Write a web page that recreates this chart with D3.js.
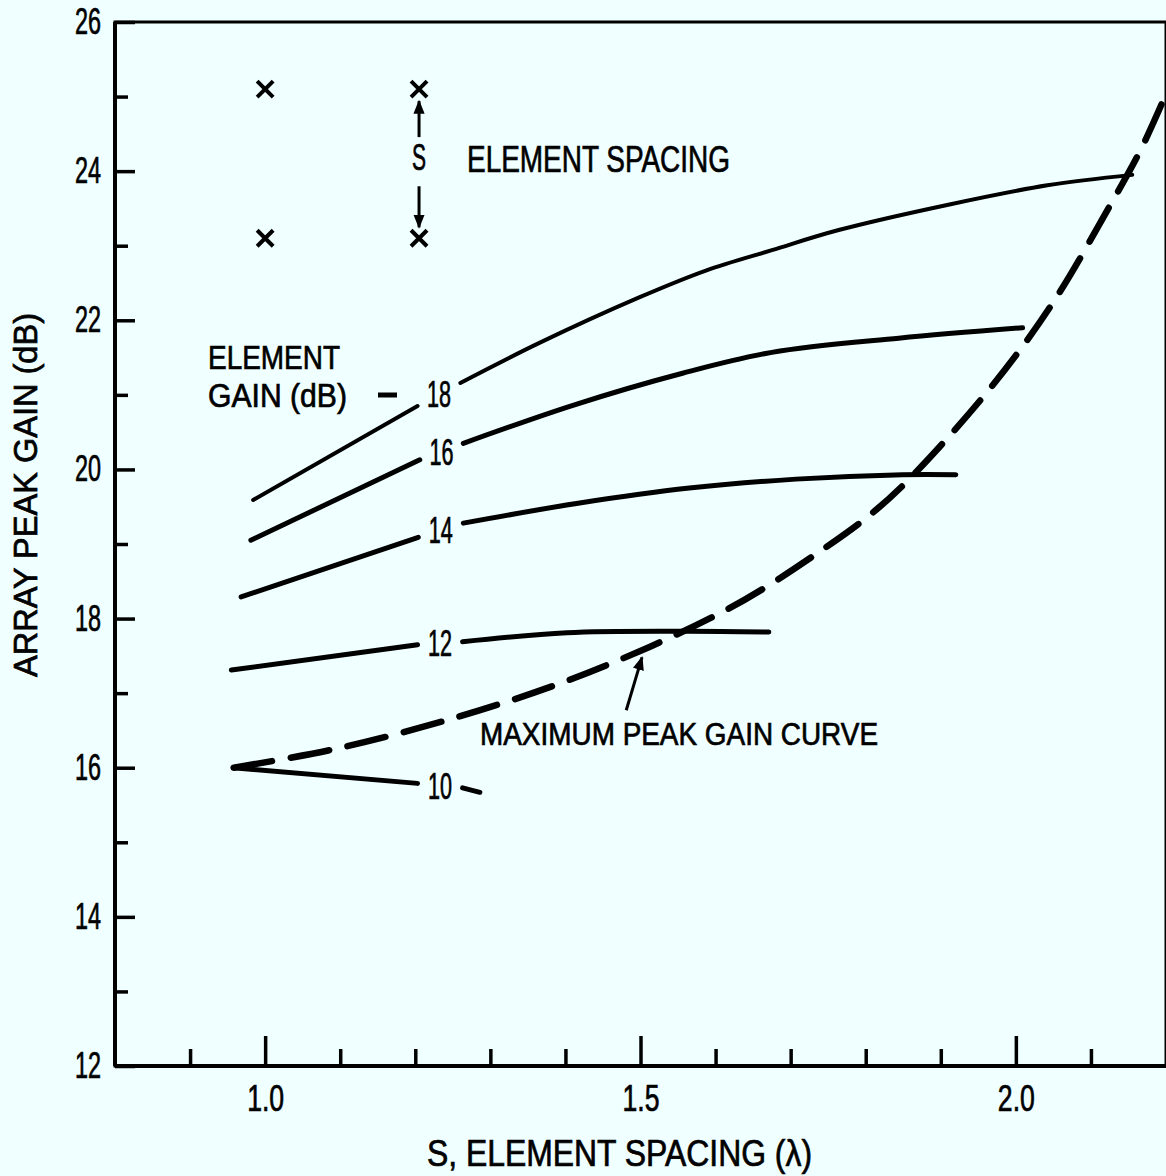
<!DOCTYPE html>
<html>
<head>
<meta charset="utf-8">
<script src="https://d3js.org/d3.v7.min.js"></script>
<style>
  html, body { margin: 0; padding: 0; background: #f0ffff; }
  svg { display: block; }
  text { font-family: 'Liberation Sans Narrow', 'Liberation Sans', Arial, sans-serif; fill: #000; stroke: #000; stroke-width: 0.7px; }
</style>
</head>
<body>
<div id="chart"></div>
<script>
// element gain curves (s in wavelengths, gain in dB)
var gain18S = [0.984, 1.203, 1.260, 1.366, 1.499, 1.588, 1.675, 1.764, 1.910, 2.042, 2.155];
var gain18G = [19.59, 20.85, 21.16, 21.70, 22.31, 22.67, 22.94, 23.21, 23.55, 23.81, 23.95];

var gain16S = [0.981, 1.206, 1.264, 1.410, 1.556, 1.675, 1.844, 2.009];
var gain16G = [19.05, 20.13, 20.35, 20.86, 21.29, 21.57, 21.76, 21.90];

var gain14S = [0.968, 1.204, 1.264, 1.419, 1.565, 1.707, 1.849, 1.920];
var gain14G = [18.29, 19.09, 19.28, 19.55, 19.75, 19.87, 19.93, 19.93];

var gain12S = [0.955, 1.203, 1.263, 1.402, 1.556, 1.671];
var gain12G = [17.31, 17.65, 17.69, 17.81, 17.83, 17.82];

var gain10S = [0.958, 1.203, 1.263, 1.286];
var gain10G = [16.00, 15.79, 15.73, 15.67];

// maximum peak gain (dashed)
var maxPeakS = [0.958, 1.088, 1.229, 1.379, 1.512, 1.613, 1.665, 1.736, 1.802, 1.854, 1.966, 2.049, 2.126, 2.166, 2.205];
var maxPeakG = [16.00, 16.24, 16.60, 17.08, 17.62, 18.11, 18.41, 18.88, 19.36, 19.83, 21.09, 22.23, 23.55, 24.28, 25.15];

var curveNames = ["18", "16", "14", "12", "10"];

// inset sketch of element positions
var elemS = [1.0, 1.205];
var elemG = [25.1, 23.1];

// arrow to the dashed curve (tail, tip)
var peakArrowS = [1.481, 1.502];
var peakArrowG = [16.77, 17.48];

// axes
var xMinorTicks = [0.9, 1.1, 1.2, 1.3, 1.4, 1.6, 1.7, 1.8, 1.9, 2.1];
var xMajorTicks = [1.0, 1.5, 2.0];
var yMinorTicks = [13, 15, 17, 19, 21, 23, 25];
var yMajorTicks = [12, 14, 16, 18, 20, 22, 24, 26];

var width = 1166, height = 1176;
var labelGap = [1.21, 1.25];

var svg = d3.select("#chart").append("svg")
    .attr("width", width)
    .attr("height", height);

svg.append("rect")
    .attr("width", width)
    .attr("height", height)
    .attr("fill", "#f0ffff");

var x = d3.scaleLinear().domain([0.8, 2.2]).range([115, 1166]);
var y = d3.scaleLinear().domain([12, 26]).range([1066, 22]);

svg.append("defs").append("clipPath")
    .attr("id", "plotClip")
    .append("rect")
    .attr("x", x(0.8))
    .attr("y", y(26))
    .attr("width", x(2.2) - x(0.8))
    .attr("height", y(12) - y(26));

var marker = svg.select("defs").append("marker")
    .attr("id", "arrowHead")
    .attr("viewBox", "0 0 10 10")
    .attr("refX", 9)
    .attr("refY", 5)
    .attr("markerUnits", "userSpaceOnUse")
    .attr("markerWidth", 14)
    .attr("markerHeight", 16)
    .attr("orient", "auto");
marker.append("path").attr("d", "M0,1 L10,5 L0,9 Z").attr("fill", "#000");

function fit(sel, w) {
    sel.attr("textLength", w).attr("lengthAdjust", "spacingAndGlyphs");
    return sel;
}

// frame
svg.append("path")
    .attr("d", "M" + x(0.8) + "," + y(12) + "V" + y(26) + "H" + x(2.2) + "V" + y(12) + "Z")
    .attr("fill", "none")
    .attr("stroke", "#000")
    .attr("stroke-width", 3);
svg.append("line")
    .attr("x1", x(0.8)).attr("x2", x(0.8))
    .attr("y1", y(26)).attr("y2", y(12))
    .attr("stroke", "#000").attr("stroke-width", 4);
svg.append("line")
    .attr("x1", x(0.8)).attr("x2", x(2.2))
    .attr("y1", y(12)).attr("y2", y(12))
    .attr("stroke", "#000").attr("stroke-width", 4);

// ticks
var xMinorAxis = d3.axisBottom(x).tickValues(xMinorTicks).tickSize(-17).tickFormat("");
var xMajorAxis = d3.axisBottom(x).tickValues(xMajorTicks).tickSize(-30).tickPadding(19)
    .tickFormat(d3.format(".1f"));
var yMinorAxis = d3.axisLeft(y).tickValues(yMinorTicks).tickSize(-13).tickFormat("");
var yMajorAxis = d3.axisLeft(y).tickValues(yMajorTicks).tickSize(-20).tickPadding(14)
    .tickFormat(d3.format("d"));

[[xMinorAxis, "x"], [xMajorAxis, "x"], [yMinorAxis, "y"], [yMajorAxis, "y"]].forEach(function (a) {
    var g = svg.append("g")
        .attr("transform", a[1] == "x" ? "translate(0," + y(12) + ")" : "translate(" + x(0.8) + ",0)")
        .attr("font-family", null)
        .attr("font-size", null)
        .call(a[0]);
    g.select(".domain").remove();
    g.selectAll(".tick line").attr("stroke", "#000").attr("stroke-width", 3.5);
    g.selectAll(".tick text")
        .attr("font-size", 36)
        .attr("fill", "#000")
        .each(function () {
            fit(d3.select(this), a[1] == "x" ? 37 : 26);
        });
});

// curves
var line = d3.line()
    .x(function (d) { return x(d[0]); })
    .y(function (d) { return y(d[1]); })
    .curve(d3.curveCatmullRom.alpha(0.5));

var plot = svg.append("g").attr("clip-path", "url(#plotClip)");

var curves = [
    [gain18S, gain18G],
    [gain16S, gain16G],
    [gain14S, gain14G],
    [gain12S, gain12G],
    [gain10S, gain10G]
];

curves.forEach(function (c, i) {
    var pts = d3.zip(c[0], c[1]);
    var segA = pts.filter(function (p) { return p[0] < labelGap[0]; });
    var segB = pts.filter(function (p) { return p[0] > labelGap[1]; });
    [segA, segB].forEach(function (seg) {
        plot.append("path")
            .attr("d", line(seg))
            .attr("fill", "none")
            .attr("stroke", "#000")
            .attr("stroke-width", i == 0 ? 4 : 5)
            .attr("stroke-linecap", "round");
    });
    var a = segA[segA.length - 1], b = segB[0];
    var t = svg.append("text")
        .attr("x", x((a[0] + b[0]) / 2))
        .attr("y", y((a[1] + b[1]) / 2) + 13)
        .attr("text-anchor", "middle")
        .attr("font-size", 36)
        .text(curveNames[i]);
    fit(t, 24);
});

plot.append("path")
    .attr("d", line(d3.zip(maxPeakS, maxPeakG)))
    .attr("fill", "none")
    .attr("stroke", "#000")
    .attr("stroke-width", 6.5)
    .attr("stroke-linecap", "round")
    .attr("stroke-dasharray", "39,19");

// arrow to dashed curve
svg.append("line")
    .attr("x1", x(peakArrowS[0])).attr("y1", y(peakArrowG[0]))
    .attr("x2", x(peakArrowS[1])).attr("y2", y(peakArrowG[1]))
    .attr("stroke", "#000")
    .attr("stroke-width", 3)
    .attr("marker-end", "url(#arrowHead)");

// element spacing sketch
elemS.forEach(function (s) {
    elemG.forEach(function (g) {
        var cx = x(s), cy = y(g), r = 8;
        svg.append("path")
            .attr("d", "M" + (cx - r) + "," + (cy - r) + "L" + (cx + r) + "," + (cy + r) +
                "M" + (cx + r) + "," + (cy - r) + "L" + (cx - r) + "," + (cy + r))
            .attr("stroke", "#000")
            .attr("stroke-width", 4);
    });
});
var ax = x(elemS[1]);
svg.append("line")
    .attr("x1", ax).attr("x2", ax)
    .attr("y1", y(elemG[0]) + 48).attr("y2", y(elemG[0]) + 12)
    .attr("stroke", "#000").attr("stroke-width", 3)
    .attr("marker-end", "url(#arrowHead)");
svg.append("line")
    .attr("x1", ax).attr("x2", ax)
    .attr("y1", y(elemG[1]) - 52).attr("y2", y(elemG[1]) - 11)
    .attr("stroke", "#000").attr("stroke-width", 3)
    .attr("marker-end", "url(#arrowHead)");
fit(svg.append("text")
    .attr("x", ax)
    .attr("y", (y(elemG[0]) + y(elemG[1])) / 2 + 6)
    .attr("text-anchor", "middle")
    .attr("font-size", 36)
    .text("S"), 14);
fit(svg.append("text")
    .attr("x", 467)
    .attr("y", 172)
    .attr("font-size", 37)
    .text("ELEMENT SPACING"), 263);

// element gain key
fit(svg.append("text").attr("x", 208).attr("y", 369).attr("font-size", 33).text("ELEMENT"), 132);
fit(svg.append("text").attr("x", 208).attr("y", 407).attr("font-size", 33).text("GAIN  (dB)"), 139);
svg.append("line")
    .attr("x1", 378).attr("x2", 397)
    .attr("y1", 395).attr("y2", 395)
    .attr("stroke", "#000").attr("stroke-width", 5);

fit(svg.append("text")
    .attr("x", 480)
    .attr("y", 745)
    .attr("font-size", 32)
    .text("MAXIMUM PEAK GAIN CURVE"), 398);

// axis titles
fit(svg.append("text")
    .attr("x", 427)
    .attr("y", 1166)
    .attr("font-size", 36)
    .text("S,  ELEMENT SPACING  (\u03bb)"), 385);

fit(svg.append("text")
    .attr("transform", "translate(37,495) rotate(-90)")
    .attr("text-anchor", "middle")
    .attr("font-size", 33)
    .text("ARRAY PEAK GAIN  (dB)"), 364);
</script>
</body>
</html>
